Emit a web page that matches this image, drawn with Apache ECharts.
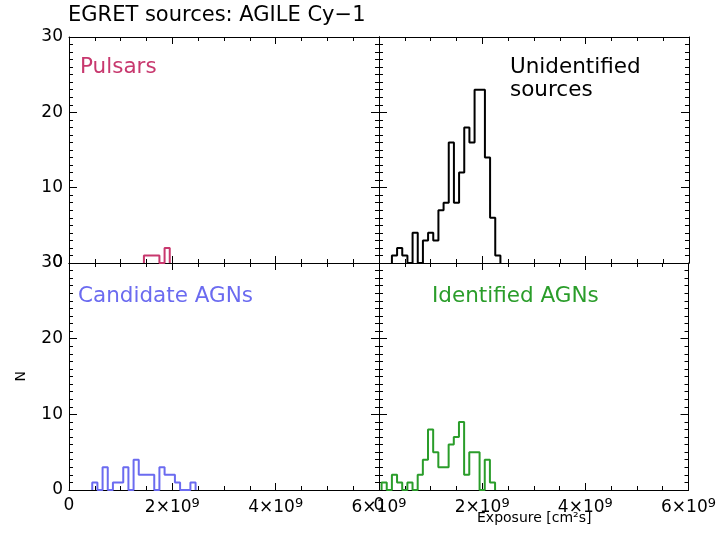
<!DOCTYPE html>
<html><head><meta charset="utf-8">
<script src="https://cdn.jsdelivr.net/npm/echarts@6/dist/echarts.min.js"></script>
<style>html,body{margin:0;padding:0;background:#fff}#c{width:719px;height:546px}</style>
</head><body><div id="c"></div>
<script>
// Exposure in units of 1e9 cm^2 s, histogram bin width 0.1e9
const binWidth = 0.1;
const xTickValues = [0, 2, 4, 6];
const yTickValues = [0, 10, 20, 30];
const panelNames = ['Pulsars', 'Unidentified\nsources', 'Candidate AGNs', 'Identified AGNs'];
const pulsarStart = 1.45;
const pulsarCounts = [1, 1, 1, 0, 2];
const unidStart = 0.25;
const unidCounts = [1, 2, 1, 0, 4, 0, 3, 4, 3, 7, 8, 16, 8, 12, 18, 16, 23, 23, 14, 6, 1];
const candStart = 0.45;
const candCounts = [1, 0, 3, 0, 1, 1, 3, 0, 4, 2, 2, 2, 0, 3, 2, 2, 1, 0, 0, 1];
const identStart = 0.05;
const identCounts = [1, 0, 2, 1, 0, 1, 0, 2, 4, 8, 5, 3, 3, 6, 7, 9, 2, 5, 5, 0, 4, 1];

const FONT = 'DejaVu Sans';
const colors = ['#c8386e', '#000000', '#6b6bf0', '#2a9d2a'];

function histData(start, counts) {
  const pts = [[start, 0]];
  counts.forEach((c, i) => pts.push([start + i * binWidth, c]));
  pts.push([start + counts.length * binWidth, 0]);
  return pts;
}

const grids = [
  {left: 69, top: 37, width: 310, height: 226},
  {left: 379, top: 37, width: 310, height: 226},
  {left: 69, top: 263, width: 310, height: 227},
  {left: 379, top: 263, width: 310, height: 227}
];

function xLabelFmt(v) { return v === 0 ? '0' : '{b|' + v + '×10}{s|9}'; }

const xAxes = [], yAxes = [];
grids.forEach((g, gi) => {
  ['bottom', 'top'].forEach(pos => {
    const lab = pos === 'bottom' && gi >= 2;
    xAxes.push({
      type: 'value', gridIndex: gi, min: xTickValues[0], max: xTickValues[xTickValues.length - 1],
      interval: xTickValues[1] - xTickValues[0], position: pos,
      axisLine: {show: true, onZero: false, lineStyle: {color: '#000', width: 1}},
      axisTick: {show: true, inside: true, length: 7, lineStyle: {color: '#000'}},
      minorTick: {show: true, splitNumber: 4, length: 4, lineStyle: {color: '#000'}},
      splitLine: {show: false},
      axisLabel: {show: lab, margin: 7, formatter: xLabelFmt, color: '#000', fontFamily: FONT, fontSize: 17,
        rich: {b: {fontFamily: FONT, fontSize: 17, color: '#000', lineHeight: 22},
               s: {fontFamily: FONT, fontSize: 13, color: '#000', verticalAlign: 'top', lineHeight: 12}}}
    });
  });
  ['left', 'right'].forEach(pos => {
    const lab = pos === 'left' && (gi === 0 || gi === 2);
    yAxes.push({
      type: 'value', gridIndex: gi, min: yTickValues[0], max: yTickValues[yTickValues.length - 1],
      interval: yTickValues[1] - yTickValues[0], position: pos,
      axisLine: {show: true, onZero: false, lineStyle: {color: '#000', width: 1}},
      axisTick: {show: true, inside: true, length: 8, lineStyle: {color: '#000'}},
      minorTick: {show: true, splitNumber: 10, length: 4, lineStyle: {color: '#000'}},
      splitLine: {show: false},
      axisLabel: {show: lab, margin: 6, color: '#000', fontFamily: FONT, fontSize: 17}
    });
  });
});

const hists = [[pulsarStart, pulsarCounts], [unidStart, unidCounts], [candStart, candCounts], [identStart, identCounts]];
const series = hists.map((h, i) => ({
  type: 'line', step: 'end', xAxisIndex: i * 2, yAxisIndex: i * 2,
  data: histData(h[0], h[1]), symbol: 'none', silent: true, animation: false,
  lineStyle: {color: colors[i], width: 2}
}));

const labelPos = [[80, 56], [510, 56], [78, 285], [432, 285]];
const graphic = [
  {type: 'text', left: 68, top: 5, style: {text: 'EGRET sources: AGILE Cy−1', font: '21px "DejaVu Sans"', fill: '#000'}},
  {type: 'text', left: 477, top: 511, style: {text: 'Exposure [cm²s]', font: '14px "DejaVu Sans"', fill: '#000'}},
  {type: 'text', left: 14, top: 371, rotation: Math.PI / 2, style: {text: 'N', font: '14px "DejaVu Sans"', fill: '#000'}}
];
panelNames.forEach((t, i) => {
  graphic.push({type: 'text', left: labelPos[i][0], top: labelPos[i][1],
    style: {text: t, font: '21.5px "DejaVu Sans"', fill: colors[i], lineHeight: 23}});
});

const chart = echarts.init(document.getElementById('c'), null, {renderer: 'canvas'});
chart.setOption({
  animation: false, backgroundColor: '#fff',
  grid: grids, xAxis: xAxes, yAxis: yAxes, series: series, graphic: graphic
});
</script></body></html>
